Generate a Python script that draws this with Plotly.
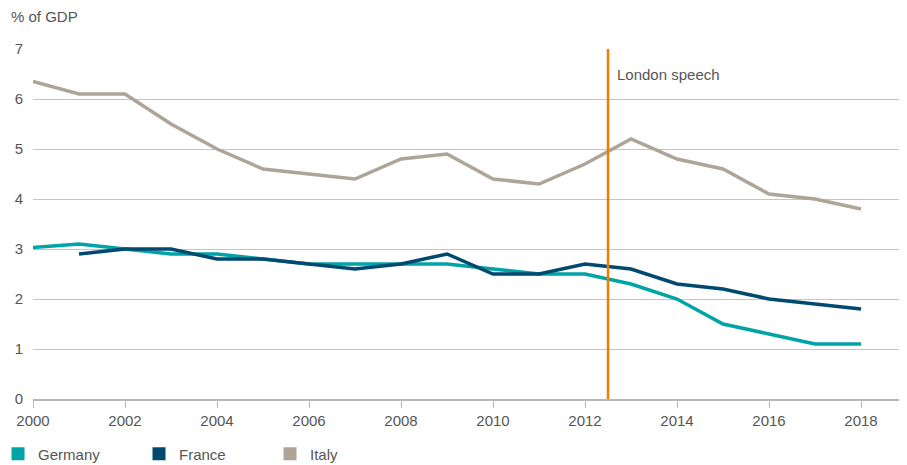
import plotly.graph_objects as go

years = list(range(2000, 2019))
germany = [3.03, 3.1, 3.0, 2.9, 2.9, 2.8, 2.7, 2.7, 2.7, 2.7, 2.6, 2.5, 2.5, 2.3, 2.0, 1.5, 1.3, 1.1, 1.1]
france = [None, 2.9, 3.0, 3.0, 2.8, 2.8, 2.7, 2.6, 2.7, 2.9, 2.5, 2.5, 2.7, 2.6, 2.3, 2.2, 2.0, 1.9, 1.8]
italy = [6.35, 6.1, 6.1, 5.5, 5.0, 4.6, 4.5, 4.4, 4.8, 4.9, 4.4, 4.3, 4.7, 5.2, 4.8, 4.6, 4.1, 4.0, 3.8]
speech_year = 2012.5
x_ticks = list(range(2000, 2019, 2))
y_ticks = list(range(0, 8))

names = ["Germany", "France", "Italy"]
colors = ["#00a3a6", "#004a70", "#ada597"]
series = [germany, france, italy]
legend_ids = ["legend", "legend2", "legend3"]
legend_x = [-0.040, 0.1213, 0.2712]

TXT = "#555555"
FONT = "Liberation Sans, Arial, sans-serif"

fig = go.Figure()
for name, col, vals in zip(names, colors, series):
    fig.add_trace(go.Scatter(x=years, y=vals, mode="lines", name=name,
                             line=dict(color=col, width=3.5), showlegend=False))
for name, col, lid in zip(names, colors, legend_ids):
    fig.add_trace(go.Scatter(x=[None], y=[None], mode="markers", name=name,
                             legend=lid,
                             marker=dict(symbol="square", size=13, color=col)))

fig.add_shape(type="line", x0=speech_year, x1=speech_year, y0=0, y1=7,
              xref="x", yref="y", line=dict(color="#f07d00", width=2.5))
fig.add_annotation(x=speech_year, y=6.5, xref="x", yref="y", text="London speech",
                   showarrow=False, xanchor="left", xshift=7,
                   font=dict(size=15, color=TXT))
fig.add_annotation(x=0, y=1, xref="paper", yref="paper", text="% of GDP",
                   showarrow=False, xanchor="left", yanchor="bottom",
                   xshift=-24, yshift=22, font=dict(size=15, color=TXT))

legend_common = dict(orientation="h", xanchor="left", y=-0.1097, yanchor="top",
                     font=dict(size=15, color=TXT, family=FONT), itemwidth=30,
                     bgcolor="rgba(0,0,0,0)")
layout_legends = {lid: dict(x=lx, **legend_common) for lid, lx in zip(legend_ids, legend_x)}

fig.update_layout(
    width=899, height=457,
    margin=dict(l=25, r=0, t=41, b=66, autoexpand=False),
    paper_bgcolor="white", plot_bgcolor="white",
    font=dict(family=FONT, size=15, color=TXT),
    xaxis=dict(range=[2000, 2019], tickvals=x_ticks, showgrid=False,
               showline=True, linecolor="#b8b8b8", linewidth=1.5,
               ticks="outside", ticklen=7, tickcolor="#b8b8b8",
               zeroline=False, tickfont=dict(size=15, color=TXT)),
    yaxis=dict(range=[0, 7], tickvals=y_ticks, showgrid=True, gridcolor="#c4c4c4",
               gridwidth=1.2, zeroline=False, showline=False, ticks="",
               ticklabelstandoff=9, tickfont=dict(size=15, color=TXT)),
    showlegend=True,
    **layout_legends,
)

fig.write_html("out.html")
